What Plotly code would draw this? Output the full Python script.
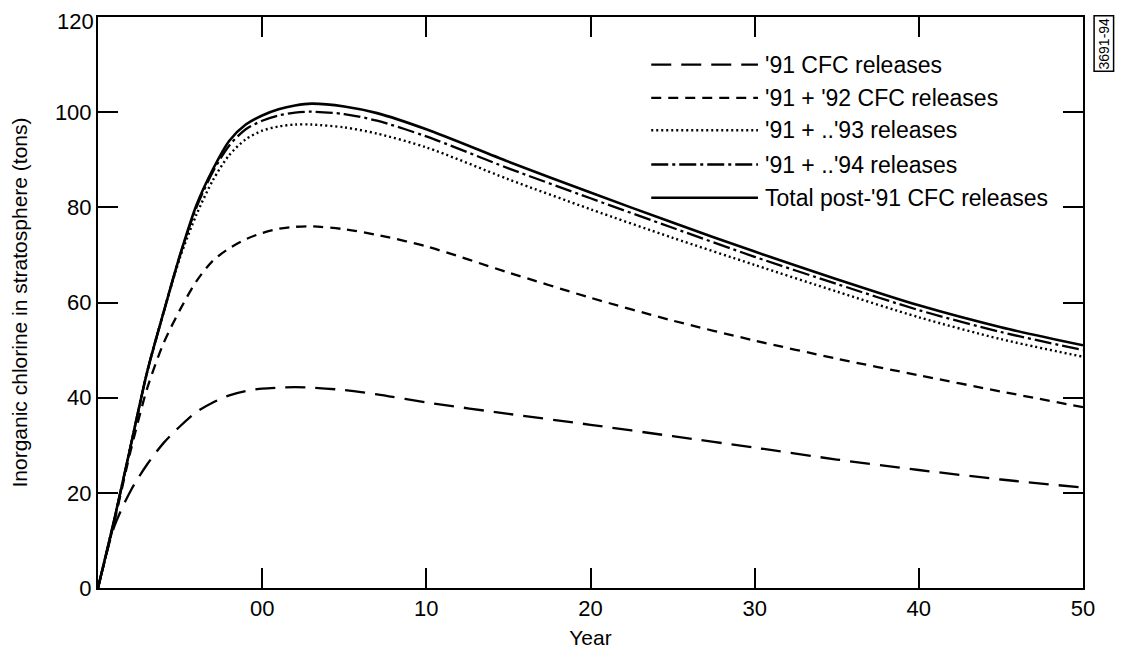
import plotly.graph_objects as go

# ---- data ----
years = [1990, 1991, 1992, 1993, 1994, 1995, 1996, 1997, 1998, 1999, 2000, 2001, 2002,
         2003, 2005, 2007, 2010, 2015, 2020, 2025, 2030, 2035, 2040, 2045, 2050]

rel_91 = [0, 13, 20.5, 26, 30.5, 34, 37, 39, 40.5, 41.4, 41.9, 42.1, 42.2,
          42.1, 41.6, 40.7, 39.0, 36.6, 34.3, 31.9, 29.5, 27.0, 24.8, 22.8, 21.1]
rel_91_92 = [0, 14, 29, 42, 51.5, 58.5, 64.5, 68.8, 71.4, 73.3, 74.6, 75.5, 75.9,
             76, 75.4, 74.2, 71.8, 66.3, 61, 56.2, 52, 48.2, 44.7, 41.3, 38]
rel_91_93 = [0, 14.5, 30, 45.5, 58, 69.5, 78.5, 85.7, 91, 94.3, 96.1, 97, 97.4,
             97.4, 96.8, 95.5, 92.6, 85.9, 79.6, 73.6, 67.9, 62.3, 56.9, 52.3, 48.6]
rel_91_94 = [0, 14.5, 30, 45.5, 58, 70, 80, 87.5, 93, 96.4, 98.2, 99.3, 99.9,
             100.1, 99.6, 98.2, 94.9, 88.2, 81.9, 75.7, 69.6, 63.9, 58.4, 53.8, 50]
rel_total = [0, 14.5, 30, 45.5, 58, 70, 80.5, 88, 94, 97.4, 99.3, 100.6, 101.4,
             101.8, 101.2, 99.8, 96.4, 89.6, 83.1, 76.8, 70.7, 64.9, 59.4, 54.8, 51]

series_names = ["'91 CFC releases", "'91 + '92 CFC releases", "'91 + ..'93 releases",
                "'91 + ..'94 releases", "Total post-'91 CFC releases"]
series_values = [rel_91, rel_91_92, rel_91_93, rel_91_94, rel_total]

x_tickvals = [2000, 2010, 2020, 2030, 2040, 2050]
x_ticktext = ["00", "10", "20", "30", "40", "50"]
y_tickvals = [0, 20, 40, 60, 80, 100, 120]
y_ticktext = ["0", "20", "40", "60", "80", "100", "120"]

# ---- styles ----
dashes = ["20px,10px", "10px,7px", "2px,3px", "17px,4px,3px,4px", "solid"]
widths = [2.3, 2.3, 2.4, 2.3, 2.6]
legend_rows = [110, 103, 96.2, 89, 82]
FONT = "Liberation Sans, Arial, Helvetica, sans-serif"

fig = go.Figure()
for name, vals, dash, w in zip(series_names, series_values, dashes, widths):
    fig.add_trace(go.Scatter(
        x=years, y=vals, mode="lines", name=name, showlegend=False,
        line=dict(color="black", width=w, dash=dash, shape="spline", smoothing=0.8),
    ))

# manual legend (long line samples like the reference)
for name, dash, w, yv in zip(series_names, dashes, widths, legend_rows):
    fig.add_shape(type="line", xref="x", yref="y", x0=2023.7, x1=2030.2, y0=yv, y1=yv,
                  line=dict(color="black", width=w, dash=dash))
    fig.add_annotation(x=2030.5, y=yv, xref="x", yref="y", text=name, showarrow=False,
                       xanchor="left", yanchor="middle",
                       font=dict(family=FONT, size=23, color="black"))

# top y tick label kept inside the page (the axis label would touch the page edge)
fig.add_annotation(x=0, y=y_tickvals[-1], xref="paper", yref="y", text=y_ticktext[-1],
                   showarrow=False, xanchor="right", yanchor="middle", xshift=-2, yshift=-4,
                   font=dict(family=FONT, size=22, color="black"))

# figure id box
fig.add_annotation(x=1.0215, y=0.953, xref="paper", yref="paper", text="3691-94",
                   textangle=-90, showarrow=False, xanchor="center", yanchor="middle",
                   bordercolor="black", borderwidth=1.5, borderpad=1,
                   font=dict(family=FONT, size=14, color="black"))

fig.update_layout(
    width=1119, height=647,
    margin=dict(l=90, r=44, t=9, b=67, autoexpand=False),
    paper_bgcolor="white", plot_bgcolor="white",
    font=dict(family=FONT, size=22, color="black"),
    xaxis=dict(range=[1990, 2050], tickvals=x_tickvals, ticktext=x_ticktext,
               ticks="inside", ticklen=20, tickwidth=2, tickcolor="black",
               showline=True, linewidth=2, linecolor="black", mirror="ticks",
               showgrid=False, zeroline=False, automargin=False,
               title=dict(text="Year", font=dict(size=21), standoff=10)),
    yaxis=dict(range=[0, 120], tickvals=y_tickvals, ticktext=y_ticktext[:-1] + [""],
               ticks="inside", ticklen=20, tickwidth=2, tickcolor="black",
               showline=True, linewidth=2, linecolor="black", mirror="ticks",
               showgrid=False, zeroline=False, automargin=False,
               title=dict(text="Inorganic chlorine in stratosphere (tons)",
                          font=dict(size=21), standoff=27)),
)

fig.write_html("out.html")
